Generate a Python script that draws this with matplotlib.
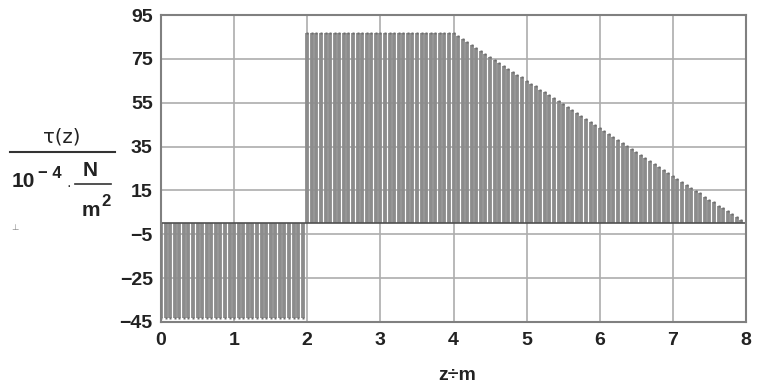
import numpy as np
import matplotlib
matplotlib.use("Agg")
import matplotlib.pyplot as plt

# Sample positions along z (m), step 1/16 m
z = np.arange(129) / 16.0

# Shear stress samples, in units of 1e-4 N/m^2
tau_left = [-43.4] * 32                      # 0 <= z < 2
tau_mid = [86.8] * 33                        # 2 <= z <= 4
tau_right = [85.4, 84.1, 82.7, 81.4, 80.0, 78.7, 77.3, 76.0,
             74.6, 73.2, 71.9, 70.5, 69.2, 67.8, 66.5, 65.1,
             63.7, 62.4, 61.0, 59.7, 58.3, 57.0, 55.6, 54.2,
             52.9, 51.5, 50.2, 48.8, 47.5, 46.1, 44.8, 43.4,
             42.0, 40.7, 39.3, 38.0, 36.6, 35.3, 33.9, 32.5,
             31.2, 29.8, 28.5, 27.1, 25.8, 24.4, 23.1, 21.7,
             20.3, 19.0, 17.6, 16.3, 14.9, 13.6, 12.2, 10.8,
             9.5, 8.1, 6.8, 5.4, 4.1, 2.7, 1.4, 0.0]   # 4 < z <= 8
tau = np.array(tau_left + tau_mid + tau_right)

x_ticks = [0, 1, 2, 3, 4, 5, 6, 7, 8]
y_ticks = [-45, -25, -5, 15, 35, 55, 75, 95]

W, H = 759, 389
fig = plt.figure(figsize=(W / 100, H / 100), dpi=100)
plt.rcParams['font.family'] = ['Liberation Sans', 'DejaVu Sans']

left, right, top, bottom = 161, 746, 15, 322
ax = fig.add_axes([left / W, 1 - bottom / H, (right - left) / W, (bottom - top) / H])
ax.set_xlim(0, 8)
ax.set_ylim(-45, 95)

# grid
for xv in x_ticks:
    ax.axvline(xv, color='#adadad', lw=1.2, zorder=1)
for yv in y_ticks:
    ax.axhline(yv, color='#adadad', lw=1.2, zorder=1)

# stems
ax.vlines(z, 0, tau, colors='#8c8c8c', lw=2.75, zorder=2)
ax.plot(z, tau, linestyle='none', marker='s', ms=1.6, mfc='#6e6e6e', mec='none', zorder=3)

# baseline
ax.axhline(0, color='#505050', lw=1.2, zorder=4)

ax.set_xticks(x_ticks)
ax.set_yticks(y_ticks)
ax.set_xticklabels([str(v) for v in x_ticks], fontsize=14, fontweight='bold', color='#222222')
ax.set_yticklabels([str(v).replace('-', '\u2212') for v in y_ticks], fontsize=14,
                   fontweight='bold', color='#222222')
ax.tick_params(axis='x', length=0, pad=7)
ax.tick_params(axis='y', length=0, pad=6)
for s in ax.spines.values():
    s.set_color('#808080')
    s.set_linewidth(1.5)
    s.set_zorder(5)


def ftext(px, py, s, **kw):
    fig.text(px / W, 1 - py / H, s, **kw)


def fline(x0, x1, py, lw=1.5):
    fig.add_artist(plt.Line2D([x0 / W, x1 / W], [1 - py / H, 1 - py / H],
                              transform=fig.transFigure, color='#333333', lw=lw))


# y-axis label as a stacked fraction
ftext(62, 137, 'τ(z)', fontsize=14, ha='center', va='center', color='#222222',
      family=['DejaVu Sans'])
fline(10, 115, 152)
ftext(12, 182, '10', fontsize=15, fontweight='bold', ha='left', va='center', color='#222222')
ftext(38, 173, '\u2212 4', fontsize=12, fontweight='bold', ha='left', va='center', color='#222222')
ftext(69, 186, '·', fontsize=10, ha='center', va='center', color='#222222')
ftext(90, 170, 'N', fontsize=15, fontweight='bold', ha='center', va='center', color='#222222')
fline(75, 111, 184, lw=1.2)
ftext(91, 210, 'm', fontsize=15, fontweight='bold', ha='center', va='center', color='#222222')
ftext(106, 202, '2', fontsize=12, fontweight='bold', ha='center', va='center', color='#222222')
ftext(15, 228, '⊥', fontsize=6, ha='center', va='center', color='#888888',
      family=['DejaVu Sans'])

# x-axis label
ftext(457, 375, 'z÷m', fontsize=14, fontweight='bold', ha='center', va='center', color='#222222')

fig.savefig('out.png', dpi=100, facecolor='white')
